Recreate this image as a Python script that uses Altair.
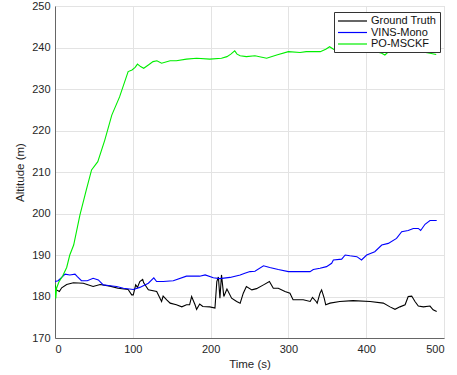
import altair as alt
import pandas as pd

series_names = ["Ground Truth", "VINS-Mono", "PO-MSCKF"]
series_colors = ["#000000", "#0000ff", "#00ee00"]

t_gt = [0, 2, 5.6, 8.6, 15, 23.6, 36.4, 49, 58, 70.7, 81, 94, 98.6, 100.6, 103.7,
        106, 109, 112.7, 114, 120, 130.7, 137, 139, 143.6, 148, 156, 163, 169, 173, 175.6,
        180, 182, 186, 190, 199, 205.6, 208, 210, 212, 214, 217, 221, 227, 233.5, 238,
        242, 246, 253, 259, 268, 275.6, 280.6, 287, 295.6, 302, 306, 319, 328, 331, 335.6,
        337, 340.6, 342.7, 346, 348, 353.5, 366, 383, 405, 422, 430.6, 437, 443.4, 450, 454,
        458.5, 462.7, 467, 473.5, 482, 486, 490.6]
v_gt = [182.8, 181.6, 181.2, 182.1, 182.9, 183.3, 183.2, 182.4, 182.9, 182.5, 182, 181.7, 180.4, 180.4, 182.8,
        182.2, 183.6, 184.1, 183.3, 181.6, 181.2, 178.8, 180.1, 179.2, 178.4, 178, 177.5, 178, 178, 180,
        178, 176.9, 178.2, 177.6, 177.5, 177.2, 183.6, 184.7, 179.6, 185.2, 180, 181.8, 179.6, 178.8, 178.4,
        180.8, 182.4, 181.6, 181.9, 182.8, 183.6, 182, 182, 181.2, 180.8, 179.2, 179.2, 178.8, 179.8, 178.8,
        178.4, 180.8, 181.6, 179.6, 178, 178.4, 178.8, 179, 178.8, 178.4, 177.5, 176.9, 177.5, 178, 180,
        180.1, 178.8, 177.7, 177.5, 177.7, 176.8, 176.4]

t_vins = [0, 4, 8.6, 13, 19, 25.7, 28.7, 34, 41.5, 49, 55.7, 62, 70.7, 79, 88,
          100.7, 109, 120, 127, 130.6, 139, 152, 169, 186, 193, 203.5, 212, 225, 238, 244,
          250.6, 257, 268, 276, 287, 300, 313, 327.8, 332, 340.6, 349, 355.6, 357.8, 368.5, 373,
          379, 388, 394, 400.6, 411, 420, 428.4, 439, 445.6, 454, 460.5, 467, 470, 475.6, 482, 490.6]
v_vins = [183.6, 183.8, 184.6, 185.4, 185.2, 185.4, 184.8, 183.8, 183.8, 184.4, 184, 182.8, 182.6, 182.4, 182,
          181.7, 182.2, 183.2, 184.5, 183.6, 183.6, 183.8, 184.9, 184.9, 185.2, 184.5, 184.3, 184.6, 185.2, 185.6,
          186, 186.1, 187.4, 187, 186.5, 186, 186, 186, 186.5, 186.8, 187.2, 188, 188.8, 189, 190,
          189.8, 189.6, 188.8, 190, 190.8, 192.4, 192.8, 194, 195.6, 195.9, 196.4, 196.4, 195.9, 197.4, 198.3, 198.3]

t_po = [0, 1, 2, 5, 10, 15, 19, 24, 32, 40, 47, 55, 64, 73, 83,
        94, 99, 103, 106, 110, 114, 120, 126, 131, 137, 148, 156, 169, 182, 199,
        214, 221, 226, 231, 234, 238, 246, 257, 272, 285, 300, 315, 323, 341, 348,
        353, 358, 362, 370, 379, 396, 413, 420, 424, 430, 448, 461, 471, 482, 490]
v_po = [183, 179.5, 182, 183.5, 185, 187, 190, 192.4, 199.6, 205.5, 210.5, 212.5, 217.7, 223.7, 228.1,
        234.2, 234.6, 235.2, 236, 235.4, 235, 235.8, 236.6, 236.8, 236.2, 236.8, 236.8, 237.2, 237.4, 237.2,
        237.4, 237.8, 238.4, 239.2, 238.4, 238, 237.8, 238, 237.4, 238.2, 239, 238.8, 239, 239, 239.6,
        240.2, 239.6, 239.2, 239, 238.8, 239, 239, 238.6, 238.2, 239.2, 239.2, 239.4, 239, 238.6, 238.3]

x_ticks = [0, 100, 200, 300, 400, 500]
y_ticks = [170, 180, 190, 200, 210, 220, 230, 240, 250]

frames = []
for name, ts, vs in zip(series_names, [t_gt, t_vins, t_po], [v_gt, v_vins, v_po]):
    frames.append(pd.DataFrame({"t": ts, "v": vs, "series": name, "order": list(range(len(ts)))}))

FONT = "Liberation Sans"

color = alt.Color(
    "series:N",
    scale=alt.Scale(domain=series_names, range=series_colors),
    legend=alt.Legend(
        title=None, orient="none", legendX=279, legendY=6,
        symbolType="M-1,0H4.8", symbolSize=100, symbolStrokeWidth=1.2,
        labelFont=FONT, labelFontSize=11, labelColor="#111111",
        fillColor="white", strokeColor="#333333", padding=3,
        rowPadding=0.5, labelOffset=22,
    ),
)

x = alt.X("t:Q", scale=alt.Scale(domain=[0, 500], nice=False),
          axis=alt.Axis(title="Time (s)", values=x_ticks, grid=True))
y = alt.Y("v:Q", scale=alt.Scale(domain=[170, 250], nice=False, zero=False),
          axis=alt.Axis(title="Altitude (m)", values=y_ticks, grid=True))

layers = []
for df in frames:
    layers.append(
        alt.Chart(df).mark_line(strokeWidth=1.1, clip=True).encode(
            x=x, y=y, color=color, order="order:Q"
        )
    )

chart = alt.layer(*layers).properties(
    width=389, height=332,
    autosize=alt.AutoSizeParams(type="none"),
    padding={"left": 55, "top": 6, "right": 13, "bottom": 37},
    background="white",
).configure_view(
    stroke="#d9d9d9", strokeWidth=1
).configure_axis(
    labelFont=FONT, labelFontSize=11, labelColor="#262626",
    titleFont=FONT, titleFontSize=11.5, titleColor="#262626", titleFontWeight="normal",
    domainColor="#666666", domainWidth=1, ticks=False,
    gridColor="#e3e3e3", gridWidth=1, labelPadding=5,
).configure_axisY(titlePadding=6).configure_axisX(titlePadding=4)

chart.save("out.html", embed_options={"renderer": "svg", "actions": False})
